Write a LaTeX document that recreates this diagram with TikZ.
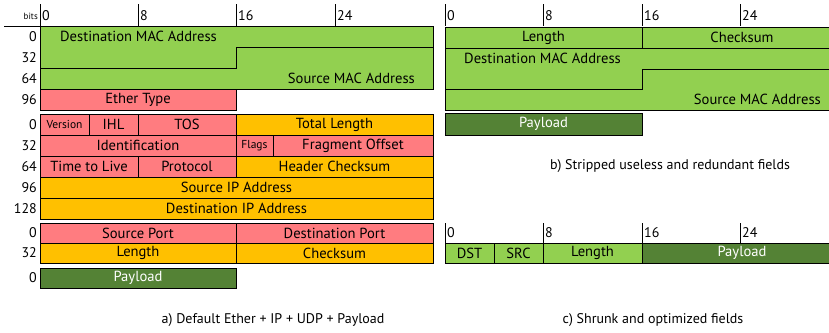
\documentclass[tikz,border=0pt]{standalone}
\usepackage{fontspec}
\setmainfont{PT Sans}
\definecolor{fgreen}{RGB}{146,208,80}
\definecolor{fred}{RGB}{255,124,128}
\definecolor{forange}{RGB}{255,192,0}
\definecolor{fdark}{RGB}{84,130,53}
\begin{document}
\begin{tikzpicture}[x=1pt,y=-1pt,
  field/.style={draw=black, line width=0.9pt, inner sep=0pt, outer sep=0pt,
    anchor=north west, minimum height=21pt,
    font=\fontsize{14.6}{14.6}\selectfont},
  small/.style={font=\fontsize{11.5}{11.5}\selectfont},
  gfield/.style={field, fill=fgreen},
  rfield/.style={field, fill=fred},
  ofield/.style={field, fill=forange},
  pfield/.style={field, fill=fdark, text=white},
  rowlbl/.style={anchor=east, inner sep=0pt, font=\fontsize{14}{14}\selectfont},
  ticklbl/.style={anchor=west, inner sep=0pt, font=\fontsize{14}{14}\selectfont},
  tick/.style={line width=0.9pt},
  caption/.style={font=\fontsize{14}{14}\selectfont, inner sep=0pt},
  freetxt/.style={inner sep=0pt, font=\fontsize{14.6}{14.6}\selectfont}]
\useasboundingbox (0,0) rectangle (829,332);
\clip (0,0) rectangle (829,332);

% ---------- a) bit ruler ----------
\node[anchor=east, inner sep=0pt, font=\fontsize{9}{9}\selectfont] (bits) at (38,16) {bits};
\foreach \x/\l in {40/0,138/8,236/16,335/24}{
  \draw[tick] (\x,4) -- (\x,26);
  \node[ticklbl] (ta\l) at (\x+2,16) {\l};
}
\draw[tick] (4,26) -- (433,26);

% ---------- a) Ethernet header ----------
\path[fill=fgreen, draw=black, line width=0.9pt] (40,26) -- (433,26) -- (433,89) -- (40,89) -- cycle;
\draw[line width=0.9pt] (40,68) -- (236,68) -- (236,47) -- (433,47);
\node[freetxt, anchor=west] (dmac) at (60,36.5) {Destination MAC Address};
\node[freetxt, anchor=east] (smac) at (415,78.5) {Source MAC Address};
\node[rfield, minimum width=196pt] (ethtype) at (40,89) {Ether Type};
\foreach \y/\l/\n in {36.5/0/e0,57.5/32/e1,78.5/64/e2,99.5/96/e3}
  \node[rowlbl] (\n) at (37,\y) {\l};

% ---------- a) IP header ----------
\node[rfield, small, minimum width=49pt] (ver) at (40,114) {Version};
\node[rfield, minimum width=49pt] (ihl) at (89,114) {IHL};
\node[rfield, minimum width=98pt] (tos) at (138,114) {TOS};
\node[ofield, minimum width=197pt] (totlen) at (236,114) {Total Length};
\node[rfield, minimum width=196pt] (ident) at (40,135) {Identification};
\node[rfield, small, minimum width=37pt] (flags) at (236,135) {Flags};
\node[rfield, minimum width=160pt] (fragoff) at (273,135) {Fragment Offset};
\node[rfield, minimum width=98pt] (ttl) at (40,156) {Time to Live};
\node[rfield, minimum width=98pt] (proto) at (138,156) {Protocol};
\node[ofield, minimum width=197pt] (hcheck) at (236,156) {Header Checksum};
\node[ofield, minimum width=393pt] (srcip) at (40,177) {Source IP Address};
\node[ofield, minimum width=393pt] (dstip) at (40,198) {Destination IP Address};
\foreach \y/\l/\n in {124.5/0/i0,145.5/32/i1,166.5/64/i2,187.5/96/i3,208.5/128/i4}
  \node[rowlbl] (\n) at (37,\y) {\l};

% ---------- a) UDP header ----------
\node[rfield, minimum height=20pt, minimum width=196pt] (sport) at (40,223) {Source Port};
\node[rfield, minimum height=20pt, minimum width=197pt] (dport) at (236,223) {Destination Port};
\node[ofield, minimum height=20pt, minimum width=196pt] (ulen) at (40,243) {Length};
\node[ofield, minimum height=20pt, minimum width=197pt] (ucheck) at (236,243) {Checksum};
\node[rowlbl] (u0) at (37,233) {0};
\node[rowlbl] (u1) at (37,253) {32};

% ---------- a) payload ----------
\node[pfield, minimum height=20pt, minimum width=196pt] (apay) at (40,268) {Payload};
\node[rowlbl] (p0) at (37,278) {0};

\node[caption] (capa) at (273,320) {a) Default Ether + IP + UDP + Payload};

% ---------- b) stripped header ----------
\foreach \x/\l in {445/0,543/8,642/16,740/24}{
  \draw[tick] (\x,4) -- (\x,26);
  \node[ticklbl] (tb\l) at (\x+2,16) {\l};
}
\node[gfield, minimum width=197pt] (blen) at (445,27) {Length};
\node[gfield, minimum width=200pt] (bcheck) at (642,27) {Checksum};
\path[fill=fgreen, draw=black, line width=0.9pt] (445,48) -- (842,48) -- (842,110) -- (445,110) -- cycle;
\draw[line width=0.9pt] (445,89) -- (642,89) -- (642,69) -- (842,69);
\node[freetxt, anchor=west] (bdmac) at (464,58) {Destination MAC Address};
\node[freetxt, anchor=east] (bsmac) at (821,99.5) {Source MAC Address};
\node[pfield, minimum height=22pt, minimum width=197pt] (bpay) at (445,113) {Payload};
\node[caption] (capb) at (670,166) {b) Stripped useless and redundant fields};

% ---------- c) shrunk header ----------
\foreach \x/\l in {445/0,543/8,642/16,740/24}{
  \draw[tick] (\x,223) -- (\x,243);
  \node[ticklbl] (tc\l) at (\x+2,233) {\l};
}
\node[gfield, minimum height=20pt, minimum width=49pt] (dst) at (445,243) {DST};
\node[gfield, minimum height=20pt, minimum width=49pt] (src) at (494,243) {SRC};
\node[gfield, minimum height=20pt, minimum width=99pt] (clen) at (543,243) {Length};
\node[pfield, minimum height=20pt, minimum width=200pt] (cpay) at (642,243) {Payload};
\node[caption] (capc) at (653,320) {c) Shrunk and optimized fields};
\end{tikzpicture}
\end{document}
